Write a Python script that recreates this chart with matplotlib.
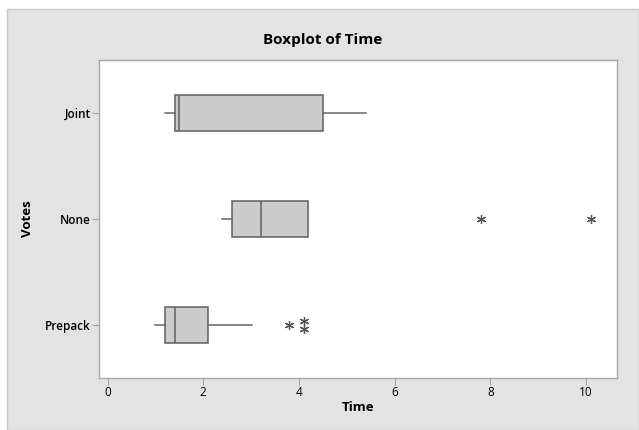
import matplotlib
matplotlib.use('Agg')
import matplotlib.pyplot as plt
from matplotlib.patches import Rectangle

# dados (Minitab)
groups = ["Prepack", "None", "Joint"]
whisker_lo = [0.99, 2.40, 1.20]
q1 = [1.20, 2.60, 1.41]
median = [1.41, 3.20, 1.50]
q3 = [2.10, 4.20, 4.50]
whisker_hi = [3.02, 4.20, 5.41]
outliers = [[3.8, 4.1, 4.1], [7.8, 10.1], []]
x_ticks = [0, 2, 4, 6, 8, 10]

plt.rcParams['font.family'] = ['Open Sans', 'DejaVu Sans']

fig = plt.figure(figsize=(6.39, 4.30), dpi=100)
fig.patch.set_facecolor('white')
# moldura cinza do Minitab
fig.patches.append(Rectangle((7 / 639, 0), 1 - 7 / 639, 1 - 9 / 430,
                             transform=fig.transFigure, facecolor='#e3e3e3',
                             edgecolor='#c8c8c8', linewidth=1, zorder=-10))

ax = fig.add_axes([99 / 639, 1 - 378 / 430, (617 - 99) / 639, (378 - 60) / 430])
ax.set_facecolor('white')

stats = []
for i, g in enumerate(groups):
    stats.append({'label': g, 'whislo': whisker_lo[i], 'q1': q1[i], 'med': median[i],
                  'q3': q3[i], 'whishi': whisker_hi[i], 'fliers': []})

pos = list(range(1, len(groups) + 1))
ax.bxp(stats, positions=pos, vert=False, widths=0.34, patch_artist=True,
       showcaps=False, showfliers=False,
       boxprops=dict(facecolor='#cccccc', edgecolor='#5f5f5f', linewidth=1.1),
       medianprops=dict(color='#5f5f5f', linewidth=1.1),
       whiskerprops=dict(color='#666666', linewidth=1.1))

# outliers: valores repetidos empilhados na vertical
for p, vals in zip(pos, outliers):
    seen = {}
    for v in vals:
        seen[v] = seen.get(v, 0) + 1
    for v, n in seen.items():
        offs = [0.0] if n == 1 else [0.072 * (k - (n - 1) / 2) for k in range(n)]
        for o in offs:
            ax.plot(v, p + o, marker=(6, 2, 0), markersize=6.5, color='#555555',
                    markeredgewidth=0.9, linestyle='none')

ax.set_xlim(-0.18, 10.65)
ax.set_ylim(0.5, 3.5)
ax.set_xticks(x_ticks)
ax.set_yticks(pos)
ax.set_yticklabels(groups)
ax.tick_params(axis='both', direction='out', length=5, width=0.8, color='#a0a0a0',
               labelsize=8.5, labelcolor='black', pad=1)
for lab in ax.get_yticklabels():
    lab.set_fontweight('semibold')
for s in ax.spines.values():
    s.set_color('#a8a8a8')
    s.set_linewidth(1.0)

ax.set_xlabel('Time', fontsize=9.5, fontweight='bold', labelpad=1)
ax.set_ylabel('Votes', fontsize=9.5, fontweight='bold', labelpad=8)
fig.text(323 / 639, 1 - 40 / 430, 'Boxplot of Time', ha='center', va='center',
         fontsize=11, fontweight='bold')

plt.savefig('out.png', dpi=100)
plt.close()
